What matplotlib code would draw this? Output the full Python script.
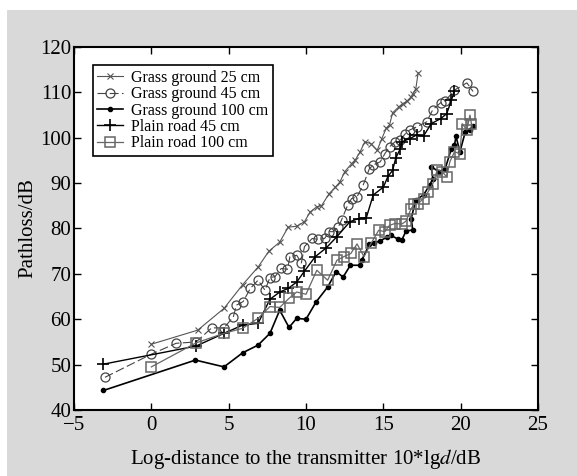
import matplotlib
matplotlib.use("Agg")
import matplotlib.pyplot as plt
from matplotlib.patches import Rectangle

# ---- data ----
g25_x = [0, 3, 4.7, 5.9, 6.9, 7.6, 8.3, 8.85, 9.4, 9.9, 10.26, 10.7, 11.0, 11.5, 11.9,
         12.2, 12.5, 12.95, 13.2, 13.5, 13.8, 14.2, 14.6, 14.9, 15.2, 15.4, 15.6, 16.0,
         16.24, 16.5, 16.8, 16.9, 17.1, 17.25]
g25_y = [54.5, 57.6, 62.4, 67.6, 71.5, 75.0, 77.0, 80.3, 80.5, 81.5, 83.6, 84.8, 85.0,
         87.7, 89.1, 90.3, 92.5, 94.3, 95.2, 96.9, 99.1, 98.7, 97.2, 99.8, 102.2, 102.8,
         105.5, 106.8, 107.5, 108.0, 109.0, 109.7, 110.8, 114.3]

g45_x = [-3, 0, 1.6, 2.9, 3.9, 4.7, 5.3, 5.5, 5.94, 6.4, 6.9, 7.35, 7.67, 8.0, 8.4, 8.8,
         8.96, 9.4, 9.7, 9.9, 10.4, 10.8, 11.2, 11.5, 11.76, 12.1, 12.3, 12.7, 12.95, 13.3,
         13.7, 14.1, 14.35, 14.8, 15.1, 15.4, 15.75, 16.1, 16.4, 16.7, 17.15, 17.8, 18.2,
         18.7, 19.0, 19.6, 20.4, 20.8]
g45_y = [47.2, 52.3, 54.7, 55.0, 58.1, 58.1, 60.5, 63.1, 63.9, 66.8, 68.6, 66.4, 69.2,
         69.4, 71.2, 71.0, 73.8, 74.1, 72.4, 76.0, 77.8, 77.6, 77.8, 79.3, 79.3, 80.4, 81.9,
         85.2, 86.6, 87.0, 89.6, 93.2, 94.0, 94.7, 96.5, 98.0, 99.1, 99.5, 100.8, 101.7,
         102.4, 103.5, 106.2, 107.7, 108.1, 110.5, 112.1, 110.2]

g100_x = [-3.1, 2.85, 4.7, 5.9, 6.9, 7.67, 8.3, 8.9, 9.4, 10.0, 10.65, 11.4, 11.95, 12.4,
          12.87, 13.5, 13.6, 14.1, 14.4, 14.8, 15.25, 15.5, 15.97, 16.2, 16.46, 16.9, 16.8,
          17.1, 17.6, 18.0, 18.2, 18.1, 18.6, 19.0, 19.4, 19.6, 19.7, 19.95, 20.3, 20.6, 20.8]
g100_y = [44.3, 51.0, 49.5, 52.6, 54.3, 56.9, 62.0, 58.2, 60.2, 60.0, 63.8, 67.1, 70.5,
          69.3, 71.9, 71.9, 73.0, 76.5, 76.8, 77.3, 78.1, 78.5, 77.6, 77.5, 79.4, 79.7, 82.2,
          86.3, 87.4, 89.6, 91.0, 93.6, 92.5, 93.2, 97.6, 98.4, 100.3, 96.9, 101.3, 101.8, 102.6]

p45_x = [-3.1, 2.9, 4.7, 5.9, 6.9, 7.67, 8.3, 8.85, 9.4, 9.9, 10.6, 11.3, 12.0, 12.84,
         13.4, 13.9, 14.35, 15.0, 15.3, 15.6, 15.8, 16.1, 16.2, 16.7, 17.15, 17.6, 18.1,
         18.7, 19.1, 19.4, 19.6]
p45_y = [50.1, 54.1, 56.9, 58.7, 59.1, 64.4, 66.0, 66.8, 68.2, 70.6, 73.8, 75.7, 78.2,
         81.5, 82.2, 82.4, 87.4, 89.1, 91.5, 92.8, 95.5, 97.6, 99.1, 99.8, 100.6, 100.4,
         103.1, 104.2, 105.3, 108.3, 110.3]

p100_x = [0, 2.9, 4.7, 5.9, 6.9, 7.67, 8.3, 8.9, 9.4, 10.0, 10.7, 11.4, 12.0, 12.45, 12.9,
          13.3, 13.75, 14.2, 14.7, 15.1, 15.4, 15.75, 16.2, 16.46, 16.8, 17.0, 17.25, 17.6,
          17.9, 18.2, 18.5, 18.8, 19.1, 19.3, 19.6, 19.95, 20.1, 20.4, 20.6, 20.7]
p100_y = [49.5, 54.8, 56.9, 58.0, 60.2, 62.8, 62.6, 64.6, 66.0, 65.5, 70.8, 68.6, 73.0,
          73.8, 74.5, 76.6, 73.8, 76.7, 79.6, 79.3, 80.7, 81.1, 81.0, 81.6, 84.4, 85.3,
          85.5, 86.6, 88.1, 89.9, 93.0, 92.5, 91.4, 94.7, 96.9, 96.5, 103.1, 101.7, 105.0, 103.0]

labels = ["Grass ground 25 cm", "Grass ground 45 cm", "Grass ground 100 cm",
          "Plain road 45 cm", "Plain road 100 cm"]
xticks = [-5, 0, 5, 10, 15, 20, 25]
yticks = [40, 50, 60, 70, 80, 90, 100, 110, 120]

plt.rcParams['font.family'] = ['Liberation Serif', 'DejaVu Serif']
plt.rcParams['mathtext.fontset'] = 'stix'

fig = plt.figure(figsize=(5.77, 4.76), dpi=100, facecolor='white')
fig.patches.append(Rectangle((7/577, 0), 1 - 7/577, 1 - 10/476, transform=fig.transFigure,
                             facecolor='#d9d9d9', edgecolor='none', zorder=-10))
ax = fig.add_axes([74/577, 1 - 410/476, 464/577, 363/476])
ax.set_facecolor('white')

ax.plot(g25_x, g25_y, color='#555555', lw=0.8, marker='x', ms=4, mew=0.8, label=labels[0])
ax.plot(g45_x, g45_y, color='#444444', lw=0.8, dashes=(8, 3), marker='o', ms=6.5,
        mfc='none', mec='#444444', mew=0.9, label=labels[1])
ax.plot(g100_x, g100_y, color='black', lw=1.2, marker='o', ms=3, mfc='black',
        mec='black', label=labels[2])
ax.plot(p45_x, p45_y, color='black', lw=1.0, marker='+', ms=8.5, mew=1.2, label=labels[3])
ax.plot(p100_x, p100_y, color='#666666', lw=0.9, marker='s', ms=6.5, mfc='none',
        mec='#666666', mew=1.1, label=labels[4])

ax.set_xlim(-5, 25)
ax.set_ylim(40, 120)
ax.set_xticks(xticks)
ax.set_yticks(yticks)
ax.tick_params(axis='x', pad=4)
ax.tick_params(direction='in', length=5, width=1, top=True, right=True, labelsize=15)
ax.tick_params(axis='y', pad=2)
for s in ax.spines.values():
    s.set_linewidth(1.5)

ax.set_xlabel('Log-distance to the transmitter 10*lg$\\mathit{d}$/dB', fontsize=15, labelpad=9)
ax.set_ylabel('Pathloss/dB', fontsize=15, labelpad=2)

leg = ax.legend(loc='upper left', bbox_to_anchor=(0.04, 0.95), fontsize=11.5, frameon=True,
                fancybox=False, edgecolor='black', framealpha=1, handlelength=1.6,
                handletextpad=0.5, labelspacing=0.02, borderpad=0.3, borderaxespad=0)
leg.get_frame().set_linewidth(1.2)

fig.savefig('out.png', dpi=100, facecolor=fig.get_facecolor())
